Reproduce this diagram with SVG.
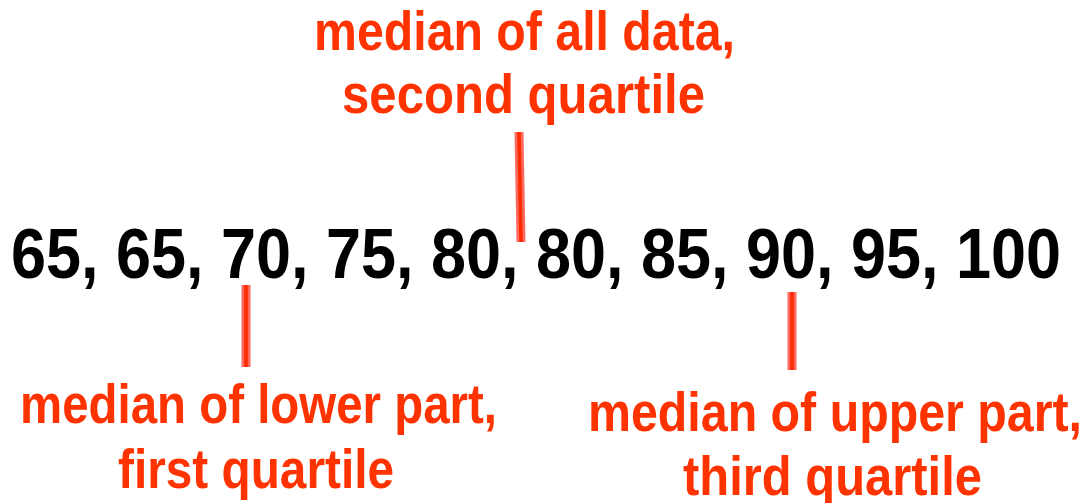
<svg xmlns="http://www.w3.org/2000/svg" width="1089" height="503" viewBox="0 0 1089 503">
<style>
.lbl{font-family:"Liberation Sans",Arial,sans-serif;font-weight:bold;font-size:55px;fill:#FF3300}
.num{font-family:"Liberation Sans",Arial,sans-serif;font-weight:bold;font-size:70px;fill:#000000}
.outer{stroke:#FF6A5E;stroke-width:9;fill:none}
.core{stroke:#FF2A00;stroke-width:3.5;fill:none}
</style>
<rect width="1089" height="503" fill="#FFFFFF"/>
<g id="connectors">
<line class="outer" x1="519" y1="132" x2="521" y2="242"/>
<line class="core" x1="519" y1="132" x2="521" y2="242"/>
<line class="outer" x1="246" y1="285" x2="246" y2="367"/>
<line class="core" x1="246" y1="285" x2="246" y2="367"/>
<line class="outer" x1="792" y1="292" x2="792" y2="370"/>
<line class="core" x1="792" y1="292" x2="792" y2="370"/>
</g>
<g id="data">
<text class="num" x="11" y="278" textLength="1050" lengthAdjust="spacingAndGlyphs">65, 65, 70, 75, 80, 80, 85, 90, 95, 100</text>
</g>
<g id="median-all">
<text class="lbl" x="314" y="50" textLength="421" lengthAdjust="spacingAndGlyphs">median of all data,</text>
<text class="lbl" x="342" y="113" textLength="363" lengthAdjust="spacingAndGlyphs">second quartile</text>
</g>
<g id="median-lower">
<text class="lbl" x="20" y="423" textLength="477" lengthAdjust="spacingAndGlyphs">median of lower part,</text>
<text class="lbl" x="118" y="488" textLength="276" lengthAdjust="spacingAndGlyphs">first quartile</text>
</g>
<g id="median-upper">
<text class="lbl" x="588" y="431" textLength="494" lengthAdjust="spacingAndGlyphs">median of upper part,</text>
<text class="lbl" x="683" y="495" textLength="299" lengthAdjust="spacingAndGlyphs">third quartile</text>
</g>
</svg>
